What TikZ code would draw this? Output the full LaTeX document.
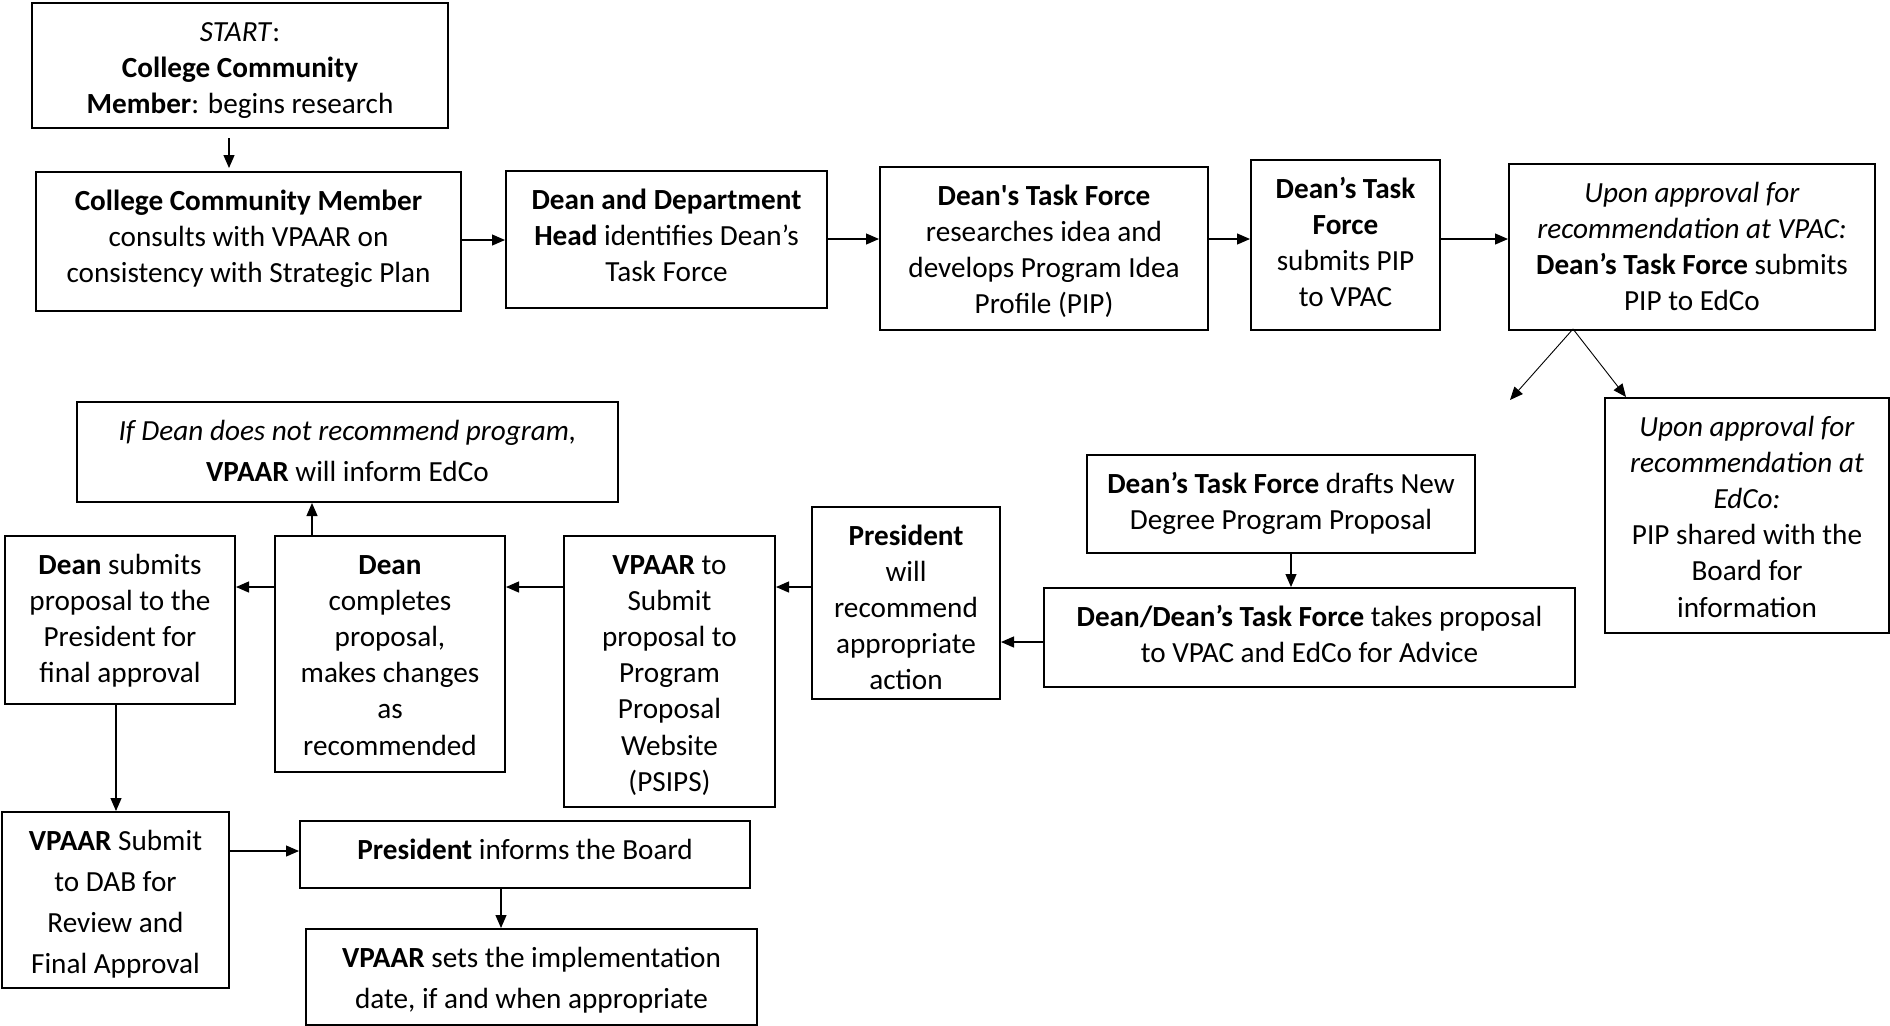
\documentclass[tikz,border=0pt]{standalone}
\usepackage{fontspec}
\setmainfont{Carlito}
\usetikzlibrary{arrows.meta}
\newcommand{\bxt}[3]{\parbox[c][#2][t]{#1}{\centering\rule{0pt}{19pt}#3\par}}
\newcommand{\wide}{\fontsize{14.6pt}{20.5pt}\selectfont}
\begin{document}
\begin{tikzpicture}[x=1pt,y=-1pt,
  box/.style={draw, line width=1pt, inner sep=0pt, anchor=north west, font=\fontsize{14.6pt}{18.1pt}\selectfont},
  arr/.style={line width=0.6pt, -{Triangle[length=6.5pt,width=5.5pt]}}]
\useasboundingbox (0,0) rectangle (945,512.5);
\node[box] (start) at (15.5,1) {\bxt{208pt}{62.5pt}{\textit{START}:\\\textbf{College Community}\\\textbf{Member}: begins research}};
\node[box] (ccm) at (17.5,85.5) {\bxt{212.5pt}{69.5pt}{\textbf{College Community Member}\\consults with VPAAR on\\consistency with Strategic Plan}};
\node[box] (ddh) at (252.5,85) {\bxt{160.5pt}{68.5pt}{\textbf{Dean and Department}\\\textbf{Head} identifies Dean’s\\Task Force}};
\node[box] (dtf) at (439.5,83) {\bxt{164pt}{81.5pt}{\textbf{Dean\textquotesingle s Task Force}\\researches idea and\\develops Program Idea\\Profile (PIP)}};
\node[box] (sub) at (625,79.5) {\bxt{94.5pt}{85pt}{\textbf{Dean’s Task}\\\textbf{Force}\\submits PIP\\to VPAC}};
\node[box] (vpac) at (754,81.5) {\bxt{183pt}{83pt}{\textit{Upon approval for}\\\textit{recommendation at VPAC:}\\\textbf{Dean’s Task Force} submits\\PIP to EdCo}};
\node[box] (edco) at (802,198.5) {\bxt{142pt}{117.5pt}{\textit{Upon approval for}\\\textit{recommendation at}\\\textit{EdCo:}\\PIP shared with the\\Board for\\information}};
\node[box] (drafts) at (543,227) {\bxt{194pt}{49pt}{\textbf{Dean’s Task Force} drafts New\\Degree Program Proposal}};
\node[box] (takes) at (521.5,293.5) {\bxt{265.5pt}{49.5pt}{\textbf{Dean/Dean’s Task Force} takes proposal\\to VPAC and EdCo for Advice}};
\node[box] (pres) at (405.5,253) {\bxt{94pt}{96pt}{\textbf{President}\\will\\recommend\\appropriate\\action}};
\node[box] (vsub) at (281.5,267.5) {\bxt{105.5pt}{135.5pt}{\textbf{VPAAR} to\\Submit\\proposal to\\Program\\Proposal\\Website\\(PSIPS)}};
\node[box] (dean) at (137,267.5) {\bxt{115pt}{118pt}{\textbf{Dean}\\completes\\proposal,\\makes changes\\as\\recommended}};
\node[box] (ifdean) at (38,200.5) {\bxt{270.5pt}{50pt}{\wide\textit{If Dean does not recommend program,}\\\textbf{VPAAR} will inform EdCo}};
\node[box] (dsub) at (2,267.5) {\bxt{115pt}{84pt}{\textbf{Dean} submits\\proposal to the\\President for\\final approval}};
\node[box] (dab) at (0.5,405.5) {\bxt{113.5pt}{88pt}{\wide\textbf{VPAAR} Submit\\to DAB for\\Review and\\Final Approval}};
\node[box] (pinf) at (149.5,410) {\bxt{225pt}{33.5pt}{\textbf{President} informs the Board}};
\node[box] (vset) at (152.5,464) {\bxt{225.5pt}{48pt}{\wide\textbf{VPAAR} sets the implementation\\date, if and when appropriate}};
% connectors
\draw[arr] ([yshift=-4.5pt]start.south -| 114.5,0) -- ([yshift=1.5pt]ccm.north -| 114.5,0);
\draw[arr] (ccm.east |- 0,120) -- (ddh.west |- 0,120);
\draw[arr] (ddh.east |- 0,119.5) -- (dtf.west |- 0,119.5);
\draw[arr] (dtf.east |- 0,119.5) -- (sub.west |- 0,119.5);
\draw[arr] (sub.east |- 0,119.5) -- (vpac.west |- 0,119.5);
\coordinate (fork) at (786.5,164.5);
\coordinate (freeend) at (755,200);
\draw[arr, line width=0.45pt] (fork) -- (freeend);
\draw[arr, line width=0.45pt] (fork) -- (edco.north west -| 813,0);
\draw[arr] (drafts.south -| 645.5,0) -- (takes.north -| 645.5,0);
\draw[arr] (takes.west |- 0,321) -- (pres.east |- 0,321);
\draw[arr] (pres.west |- 0,293.5) -- (vsub.east |- 0,293.5);
\draw[arr] (vsub.west |- 0,293.5) -- (dean.east |- 0,293.5);
\draw[arr] (dean.west |- 0,293.5) -- (dsub.east |- 0,293.5);
\draw[arr] (dean.north -| 156,0) -- (ifdean.south -| 156,0);
\draw[arr] (dsub.south -| 58,0) -- (dab.north -| 58,0);
\draw[arr] (dab.east |- 0,425.5) -- (pinf.west |- 0,425.5);
\draw[arr] (pinf.south -| 250.5,0) -- (vset.north -| 250.5,0);
\end{tikzpicture}
\end{document}
